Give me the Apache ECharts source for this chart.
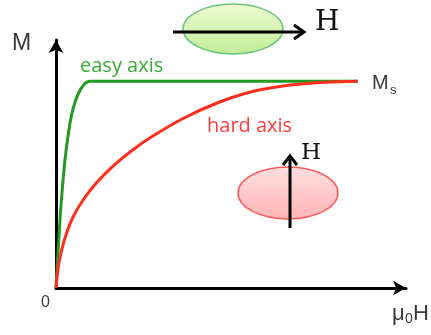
<!DOCTYPE html>
<html>
<head>
<meta charset="utf-8">
<script src="https://cdn.jsdelivr.net/npm/echarts@6/dist/echarts.min.js"></script>
<style>
  html, body { margin: 0; padding: 0; background: #fff; }
  #chart { width: 431px; height: 335px; }
</style>
</head>
<body>
<div id="chart"></div>
<script>
// Magnetisation curves: field (relative to saturation field) vs M / Ms
const easyField = [0, 0.0132, 0.0199, 0.0298, 0.043, 0.056, 0.0728, 0.0927, 0.113, 0.14, 0.3, 0.6, 1.0];
const easyM     = [0, 0.330, 0.461, 0.621, 0.767, 0.864, 0.937, 0.985, 1.0, 1.0, 1.0, 1.0, 1.0];

const hardField = [0, 0.0076, 0.0189, 0.0354, 0.0573, 0.0904, 0.135, 0.189, 0.255, 0.321, 0.421, 0.532, 0.642, 0.752, 0.863, 1.0];
const hardM     = [0, 0.103, 0.184, 0.267, 0.346, 0.427, 0.510, 0.590, 0.669, 0.735, 0.820, 0.894, 0.947, 0.977, 0.993, 1.0];

const axisRange = { xMax: 1.16, yMax: 1.2 };

const labels = {
  yName: 'M', xName: '\u03bc', xSub: '0', xTail: 'H', origin: '0',
  ms: 'M', msSub: 's',
  easy: 'easy axis', hard: 'hard axis', field: 'H'
};

const GREEN = '#229a22';
const RED = '#ff2e1e';
const SANS = '"Liberation Sans", Arial, sans-serif';
const LABEL_FONT = '"Open Sans", sans-serif';
const SERIF = '"DejaVu Serif", serif';

const pairs = (xs, ys) => xs.map((x, i) => [x, ys[i]]);

const txt = (left, top, text, size, family, fill) => ({
  type: 'text', left, top,
  style: { text, fontSize: size, fontFamily: family, fill }
});

const chart = echarts.init(document.getElementById('chart'), null, { renderer: 'canvas' });

const axisLineStyle = { color: '#000', width: 3 };

chart.setOption({
  animation: false,
  backgroundColor: '#fff',
  grid: { left: 56, right: 25, top: 40, bottom: 47 },
  xAxis: {
    type: 'value', min: 0, max: axisRange.xMax,
    axisLine: { show: true, onZero: false, lineStyle: axisLineStyle, symbol: ['none', 'arrow'], symbolSize: [11, 13] },
    axisTick: { show: false }, axisLabel: { show: false }, splitLine: { show: false }
  },
  yAxis: {
    type: 'value', min: 0, max: axisRange.yMax,
    axisLine: { show: true, onZero: false, lineStyle: axisLineStyle, symbol: ['none', 'arrow'], symbolSize: [11, 13] },
    axisTick: { show: false }, axisLabel: { show: false }, splitLine: { show: false }
  },
  series: [
    {
      name: labels.hard, type: 'line', smooth: 0.3, showSymbol: false,
      data: pairs(hardField, hardM),
      lineStyle: { color: RED, width: 3 }, z: 3
    },
    {
      name: labels.easy, type: 'line', smooth: 0.3, showSymbol: false,
      data: pairs(easyField, easyM),
      lineStyle: { color: GREEN, width: 3 }, z: 2
    }
  ],
  graphic: [
    // axis names
    txt(12, 32, labels.yName, 23, SANS, '#3a3a3a'),
    txt(41, 295, labels.origin, 16, SANS, '#3a3a3a'),
    txt(392, 303, labels.xName, 22, SANS, '#3a3a3a'),
    txt(405, 312, labels.xSub, 14, SANS, '#3a3a3a'),
    txt(413, 303, labels.xTail, 22, SANS, '#3a3a3a'),
    // saturation label
    txt(372, 73, labels.ms, 20, SANS, '#3a3a3a'),
    txt(390, 84, labels.msSub, 13, SANS, '#3a3a3a'),
    // curve labels
    txt(80, 56, labels.easy, 20, LABEL_FONT, '#3aaa3a'),
    txt(207, 116, labels.hard, 20, LABEL_FONT, '#ff3b3b'),

    // easy-axis ellipse with horizontal field arrow
    {
      type: 'ellipse', shape: { cx: 233, cy: 29, rx: 50, ry: 25 },
      style: {
        fill: new echarts.graphic.LinearGradient(0, 0, 0, 1, [
          { offset: 0, color: '#eefbd2' }, { offset: 1, color: '#c2ec98' }
        ]),
        stroke: '#6cc47c', lineWidth: 1.5
      }
    },
    { type: 'line', shape: { x1: 173, y1: 32, x2: 302, y2: 32 }, style: { stroke: '#000', lineWidth: 3 } },
    { type: 'polyline', shape: { points: [[294, 25], [304, 32], [294, 39]] }, style: { stroke: '#000', lineWidth: 3, fill: null } },
    txt(315, 9, labels.field, 28, SERIF, '#111'),

    // hard-axis ellipse with vertical field arrow
    {
      type: 'ellipse', shape: { cx: 288, cy: 193, rx: 50, ry: 26 },
      style: {
        fill: new echarts.graphic.LinearGradient(0, 0, 0, 1, [
          { offset: 0, color: '#ffe0e0' }, { offset: 1, color: '#ffb4b4' }
        ]),
        stroke: '#ff5a5a', lineWidth: 1.5
      }
    },
    { type: 'line', shape: { x1: 290, y1: 228, x2: 290, y2: 159 }, style: { stroke: '#000', lineWidth: 3 } },
    { type: 'polyline', shape: { points: [[283, 165], [290, 156], [297, 165]] }, style: { stroke: '#000', lineWidth: 3, fill: null } },
    txt(301, 142, labels.field, 23, SERIF, '#111')
  ]
});
</script>
</body>
</html>
